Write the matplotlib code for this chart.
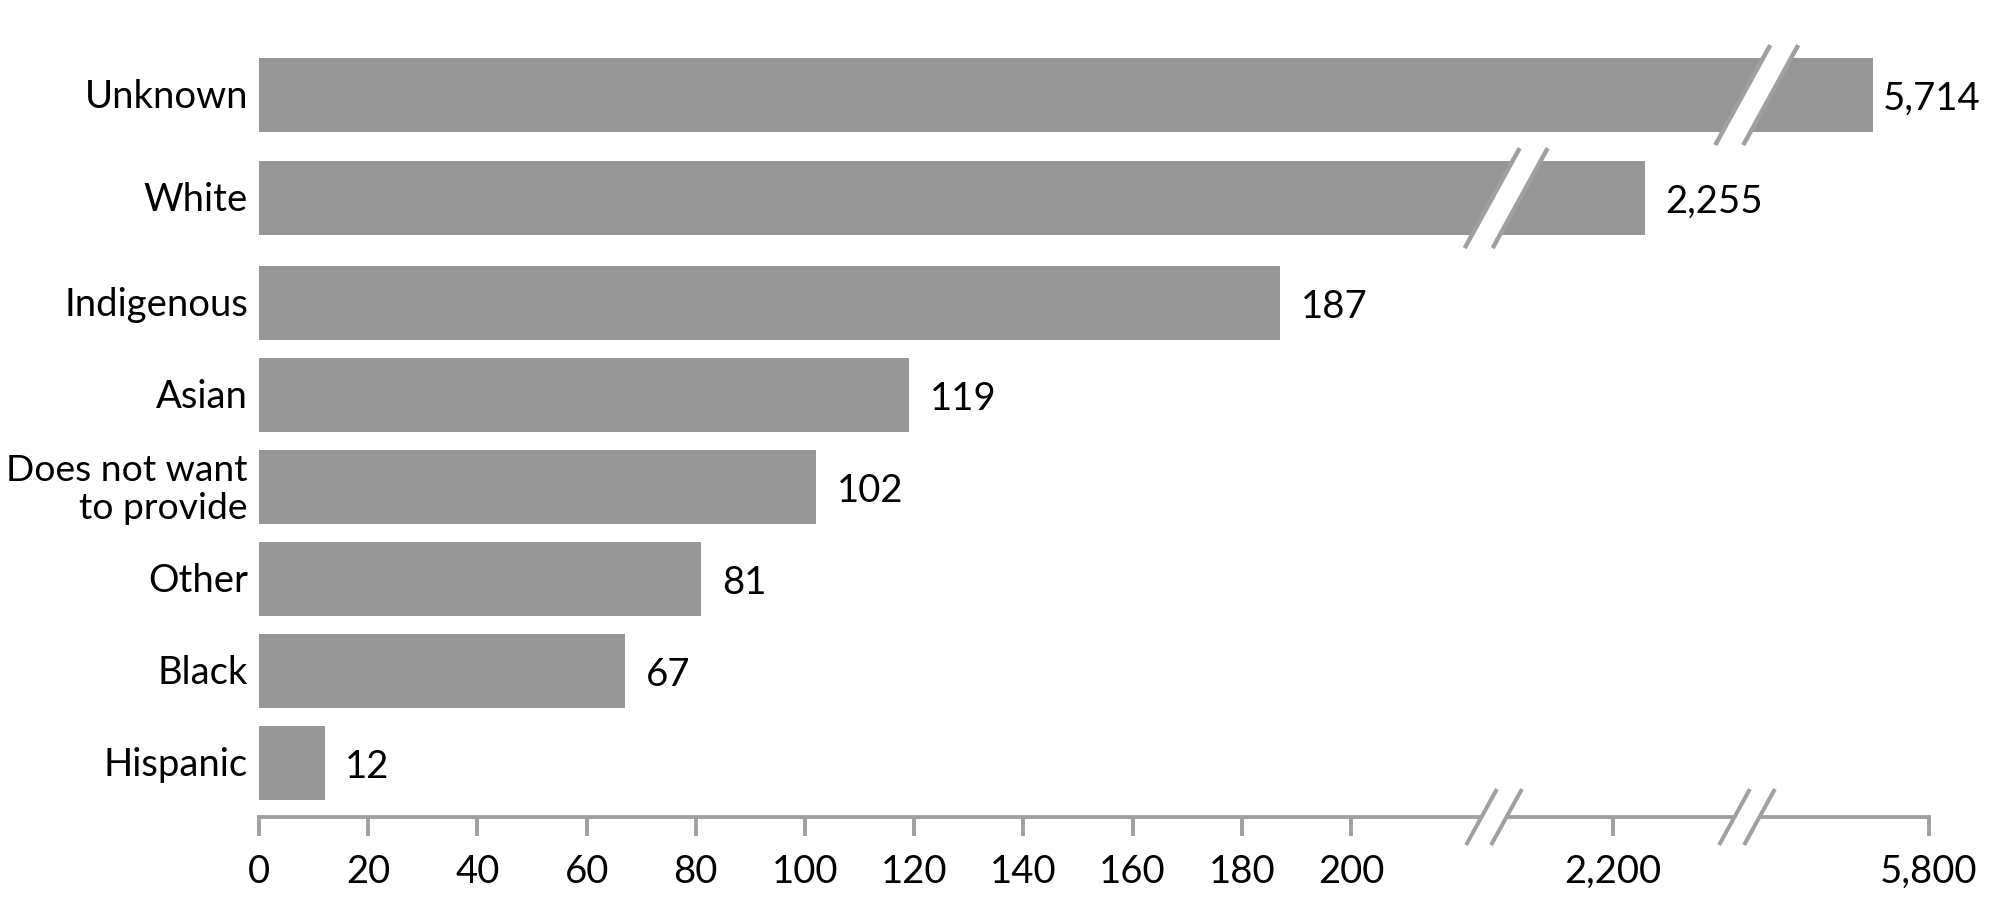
import numpy as np
import matplotlib
matplotlib.use('Agg')
from matplotlib import pyplot as plt
from matplotlib.patches import Polygon
from matplotlib.lines import Line2D
from matplotlib.transforms import IdentityTransform

plt.rcParams['font.family'] = ['Lato', 'DejaVu Sans']

categories = ['Unknown', 'White', 'Indigenous', 'Asian',
              'Does not want\nto provide', 'Other', 'Black', 'Hispanic']
counts = [5714, 2255, 187, 119, 102, 81, 67, 12]
tick_values = [0, 20, 40, 60, 80, 100, 120, 140, 160, 180, 200, 2200, 5800]

bar_color = '#969696'
axis_color = '#a0a0a0'
fsize = 27.5

# broken x axis: data value -> pixel column, with jumps at the breaks
scale_data = [-47.44, 0, 226.2, 1995, 2431, 5520, 5800, 5924.6]
scale_px = [0, 259, 1494, 1494.01, 1747, 1747.01, 1929, 2010]


def fwd(x):
    return np.interp(x, scale_data, scale_px)


def inv(p):
    return np.interp(p, scale_px, scale_data)


fig = plt.figure(figsize=(20.1, 9), dpi=100, facecolor='w')
ax = fig.add_axes([0, 0, 1, 1])
ax.set_xscale('function', functions=(fwd, inv))
ax.set_xlim(scale_data[0], scale_data[-1])
ax.set_ylim(-1.489, 8.293)

# top two rows sit a little further apart
extra = [0.26, 0.14, 0, 0, 0, 0, 0, 0]
ypos = np.arange(len(categories))[::-1] + np.array(extra)

ax.barh(ypos, counts, height=0.8, color=bar_color, zorder=3)

for y, name, v in zip(ypos, categories, counts):
    two_line = '\n' in name
    ax.annotate(name, xy=(0, y), xytext=(-8, -2 if two_line else -1.5),
                textcoords='offset points', ha='right', va='center',
                fontsize=fsize - 0.7 if two_line else fsize,
                linespacing=1.2, multialignment='right')
    pad = 7 if v > 5000 else 15
    ax.annotate(f'{v:,}', xy=(v, y), xytext=(pad, -10.5),
                textcoords='offset points', ha='left', va='baseline',
                fontsize=fsize)

for s in ['left', 'top', 'right']:
    ax.spines[s].set_visible(False)
ax.spines['bottom'].set_position(('data', -0.587))
ax.spines['bottom'].set_bounds(0, 5800)
ax.spines['bottom'].set_color(axis_color)
ax.spines['bottom'].set_linewidth(2.8)
ax.set_yticks([])
ax.set_xticks(tick_values)
ax.set_xticklabels([f'{t:,}' for t in tick_values])
ax.xaxis.set_minor_locator(matplotlib.ticker.NullLocator())
ax.tick_params(axis='x', direction='out', length=14, width=2.8,
               color=axis_color, labelsize=fsize, pad=12.5)


def draw_break(x, y, half_h, gap, lw):
    cx, cy = ax.transData.transform((x, y))
    dx = half_h * 0.55
    xs = [cx - gap / 2 - dx, cx + gap / 2 - dx,
          cx + gap / 2 + dx, cx - gap / 2 + dx]
    ys = [cy - half_h, cy - half_h, cy + half_h, cy + half_h]
    ax.add_patch(Polygon(np.column_stack([xs, ys]), closed=True,
                         facecolor='white', edgecolor='none',
                         transform=IdentityTransform(), zorder=5))
    for off in (-gap / 2, gap / 2):
        ax.add_line(Line2D([cx + off - dx, cx + off + dx],
                           [cy - half_h, cy + half_h], color=axis_color,
                           lw=lw, solid_capstyle='butt',
                           transform=IdentityTransform(), zorder=6))


# breaks on the axis line
draw_break(226.2, -0.587, 28, 25, 2.9)
draw_break(2431, -0.587, 28, 25, 2.9)
# breaks on the long bars
draw_break(2016, ypos[1], 50, 28, 3.2)
draw_break(5535, ypos[0], 50, 28, 3.2)

fig.savefig('out.png', dpi=100, facecolor='w')
